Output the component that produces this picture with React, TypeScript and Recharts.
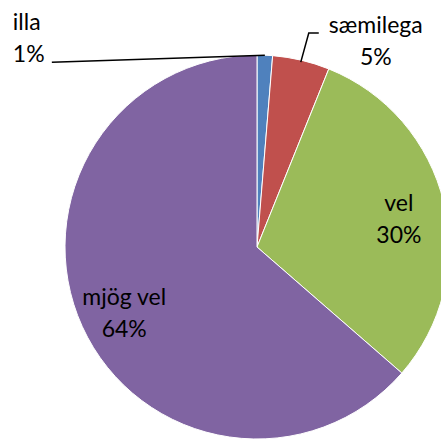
import { Cell, Pie, PieChart } from "recharts";

const categories = ["illa", "sæmilega", "vel", "mjög vel"];
const shares = [1.3, 4.8, 30.3, 63.6];
const percentLabels = ["1%", "5%", "30%", "64%"];
const colors = ["#4F81BD", "#C0504D", "#9BBB59", "#8064A2"];

const data = categories.map((name, i) => ({ name, value: shares[i], pct: percentLabels[i] }));

const RAD = Math.PI / 180;
const FONT = "Lato, 'Open Sans', sans-serif";

function renderLabel(props: any) {
  const { cx, cy, midAngle, outerRadius, index } = props;
  const d = data[index];
  const cos = Math.cos(-midAngle * RAD);
  const sin = Math.sin(-midAngle * RAD);
  const common = { fontFamily: FONT, fontSize: 23, fill: "#000" };

  if (index === 0) {
    // leader runs far to the left
    const ex = cx + outerRadius * cos;
    const ey = cy + outerRadius * sin;
    return (
      <g>
        <polyline points={`${ex},${ey} ${ex - 213},${ey + 7}`} stroke="#000" strokeWidth={1.5} fill="none" />
        <text x={ex - 252} y={ey - 25} {...common}>{d.name}</text>
        <text x={ex - 252} y={ey + 7} {...common}>{d.pct}</text>
      </g>
    );
  }
  if (index === 1) {
    const ex = cx + (outerRadius - 2) * cos;
    const ey = cy + (outerRadius - 2) * sin;
    return (
      <g>
        <polyline
          points={`${ex},${ey} ${ex + 8},${ey - 29} ${ex + 18},${ey - 29}`}
          stroke="#000"
          strokeWidth={1.5}
          fill="none"
        />
        <text x={ex + 75} y={ey - 29} textAnchor="middle" {...common}>{d.name}</text>
        <text x={ex + 75} y={ey + 3} textAnchor="middle" {...common}>{d.pct}</text>
      </g>
    );
  }
  const r = outerRadius * 0.76;
  const x = cx + r * cos;
  const y = cy + r * sin;
  return (
    <g>
      <text x={x} y={y - 2} textAnchor="middle" {...common}>{d.name}</text>
      <text x={x} y={y + 30} textAnchor="middle" {...common}>{d.pct}</text>
    </g>
  );
}

export default function App() {
  return (
    <div style={{ position: "fixed", left: 0, top: 0, background: "#fff" }}>
      <PieChart width={441} height={439} margin={{ top: 0, right: 0, bottom: 0, left: 0 }}>
        <Pie
          data={data}
          dataKey="value"
          nameKey="name"
          cx={257}
          cy={247}
          outerRadius={192}
          startAngle={90}
          endAngle={-270}
          stroke="#fff"
          strokeWidth={1}
          label={renderLabel}
          labelLine={false}
          isAnimationActive={false}
        >
          {data.map((d, i) => (
            <Cell key={d.name} fill={colors[i]} />
          ))}
        </Pie>
      </PieChart>
    </div>
  );
}
